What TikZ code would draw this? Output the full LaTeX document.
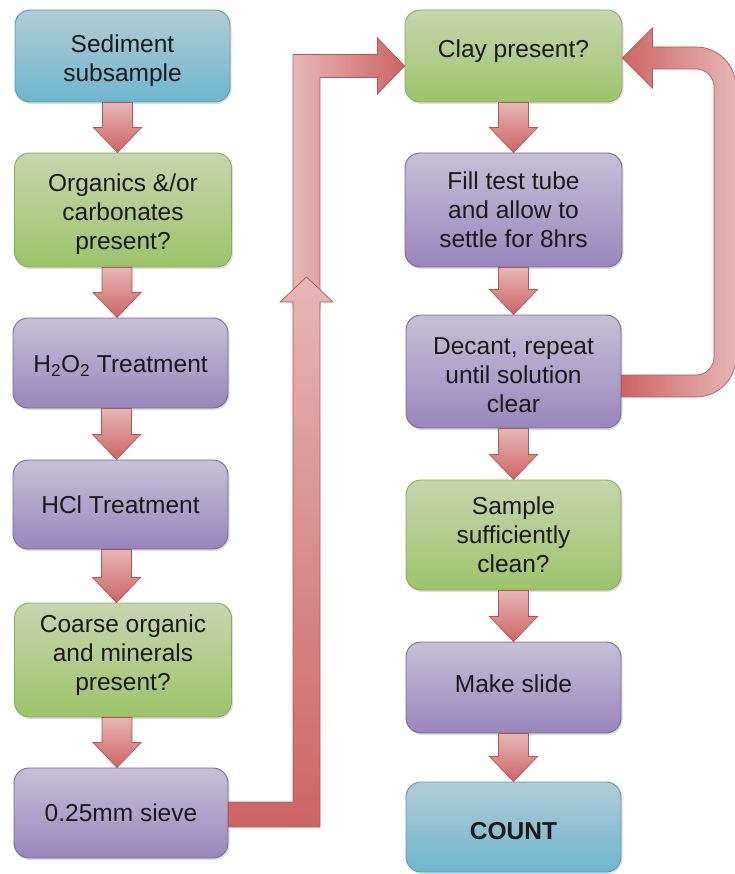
\documentclass[tikz,border=0pt]{standalone}
\usepackage{fontspec}
\setmainfont{Liberation Sans}
\usetikzlibrary{calc,shadows}
\definecolor{bluetop}{HTML}{B2CCD6}
\definecolor{bluebot}{HTML}{6DB6CD}
\definecolor{blueedge}{HTML}{5E98AC}
\definecolor{greentop}{HTML}{C6D5AE}
\definecolor{greenbot}{HTML}{9CC46A}
\definecolor{greenedge}{HTML}{88A85E}
\definecolor{purptop}{HTML}{C6C0D6}
\definecolor{purpbot}{HTML}{9886BC}
\definecolor{purpedge}{HTML}{76689A}
\definecolor{arrpink}{HTML}{E6B6B6}
\definecolor{arrred}{HTML}{CD6464}
\definecolor{arredge}{HTML}{B05656}
\definecolor{txt}{HTML}{1A1A1A}
\newcommand{\boxfont}{\fontsize{24.5}{29}\selectfont}
\tikzset{
  box/.style={rounded corners=15pt, minimum width=215pt, align=center,
    font=\boxfont, text=txt, line width=0.9pt, inner sep=2pt,
    drop shadow={opacity=0.25, shadow xshift=1.5pt, shadow yshift=-2pt}},
  tshift/.style={execute at begin node={\rule{0pt}{#1pt}}},
  bshift/.style={execute at end node={\rule[-#1pt]{0pt}{0pt}}},
  bluebox/.style={box, top color=bluetop, bottom color=bluebot, draw=blueedge},
  greenbox/.style={box, top color=greentop, bottom color=greenbot, draw=greenedge},
  purpbox/.style={box, top color=purptop, bottom color=purpbot, draw=purpedge},
  smallarrow/.style={top color=arrpink, bottom color=arrred, draw=arredge, line width=0.7pt},
  bigarrowv/.style={top color=arrpink, bottom color=arrred, draw=arredge, line width=0.7pt},
  bigarrowh/.style={left color=arrpink, right color=arrred, draw=arredge, line width=0.7pt},
  looparrow/.style={left color=arrred, right color=arrpink, draw=arredge, line width=0.7pt},
}
% block arrow from #2.south to #3.north, x offset #1
\newcommand{\blockarr}[3]{%
  \shadedraw[smallarrow] let \p1=($(#2.south)+(#1,0)$), \p2=($(#3.north)+(#1,0)$) in
    (\x1-15,\y1) -- (\x1+15,\y1) -- (\x1+15,\y2+25) -- (\x1+24,\y2+25) -- (\x1,\y2)
    -- (\x1-24,\y2+25) -- (\x1-15,\y2+25) -- cycle;}
\begin{document}
\begin{tikzpicture}[x=1pt,y=1pt]
\useasboundingbox (0,0) rectangle (735,-874);
% left column
\node[bluebox, tshift=57, minimum width=215pt, minimum height=92pt] (sed) at (122.5,-56) {Sediment\\subsample};
\node[greenbox, tshift=85, minimum width=217pt, minimum height=114pt] (org) at (123,-210) {Organics \&/or\\carbonates\\present?};
\node[purpbox, tshift=23, minimum height=90pt] (h2o2) at (120.5,-363) {H\textsubscript{2}O\textsubscript{2} Treatment};
\node[purpbox, minimum height=89pt] (hcl) at (120.5,-504.5) {HCl Treatment};
\node[greenbox, bshift=14, minimum width=217pt, minimum height=114pt] (coarse) at (123,-660) {Coarse organic\\and minerals\\present?};
\node[purpbox, minimum width=214pt, minimum height=90pt] (sieve) at (121,-813) {0.25mm sieve};
% right column
\node[greenbox, bshift=14, minimum width=217pt, minimum height=92pt] (clay) at (513.5,-56) {Clay present?};
\node[purpbox, minimum width=217pt, minimum height=114pt] (fill) at (513.5,-210) {Fill test tube\\and allow to\\settle for 8hrs};
\node[purpbox, tshift=83, minimum width=215pt, minimum height=113pt] (decant) at (513.5,-371.5) {Decant, repeat\\until solution\\clear};
\node[greenbox, minimum width=215pt, minimum height=110pt] (sample) at (513.5,-535) {Sample\\sufficiently\\clean?};
\node[purpbox, bshift=8, minimum width=215pt, minimum height=91pt] (slide) at (513.5,-687.5) {Make slide};
\node[bluebox, tshift=26, minimum width=215pt, minimum height=90pt] (count) at (513.5,-827) {\textbf{COUNT}};
% small arrows
\blockarr{-5}{sed}{org}
\blockarr{-6}{org}{h2o2}
\blockarr{-4}{h2o2}{hcl}
\blockarr{-4}{hcl}{coarse}
\blockarr{-6}{coarse}{sieve}
\blockarr{0}{clay}{fill}
\blockarr{0}{fill}{decant}
\blockarr{0}{decant}{sample}
\blockarr{0}{sample}{slide}
\blockarr{0}{slide}{count}
% big arrows: sieve -> junction -> clay
\coordinate (jn) at (306.5,-277);
\shadedraw[bigarrowh] let \p2=(jn), \p3=($(clay.west)+(0,-10)$) in
  (\x2-13.5,\y2-30) -- (\x2-13.5,\y3+11.5) -- (\x3-27,\y3+11.5) -- (\x3-27,\y3+28)
  -- (\x3,\y3) -- (\x3-27,\y3-28) -- (\x3-27,\y3-11.5) -- (\x2+13.5,\y3-11.5)
  -- (\x2+13.5,\y2-30) -- cycle;
\shadedraw[bigarrowv] let \p1=($(sieve.east)+(0,-1.5)$), \p2=(jn) in
  (\x1,\y1+12.5) -- (\x2-13.5,\y1+12.5) -- (\x2-13.5,\y2-25) -- (\x2-26.5,\y2-25)
  -- (\x2,\y2) -- (\x2+26.5,\y2-25) -- (\x2+13.5,\y2-25) -- (\x2+13.5,\y1-12.5)
  -- (\x1,\y1-12.5) -- cycle;
% loop arrow: decant -> clay
\shadedraw[looparrow] let \p4=($(decant.east)+(0,-14.5)$), \p5=($(clay.east)+(0,-2)$) in
  (\x4,\y4+11) -- (696,\y4+11) arc[start angle=-90,end angle=0,radius=18]
  -- (714,\y5-29) arc[start angle=0,end angle=90,radius=18]
  -- (\x5+30,\y5-11) -- (\x5+30,\y5-30) -- (\x5,\y5) -- (\x5+30,\y5+30) -- (\x5+30,\y5+11)
  -- (696,\y5+11) arc[start angle=90,end angle=0,radius=40]
  -- (736,\y4+29) arc[start angle=0,end angle=-90,radius=40]
  -- (\x4,\y4-11) -- cycle;
\end{tikzpicture}
\end{document}
